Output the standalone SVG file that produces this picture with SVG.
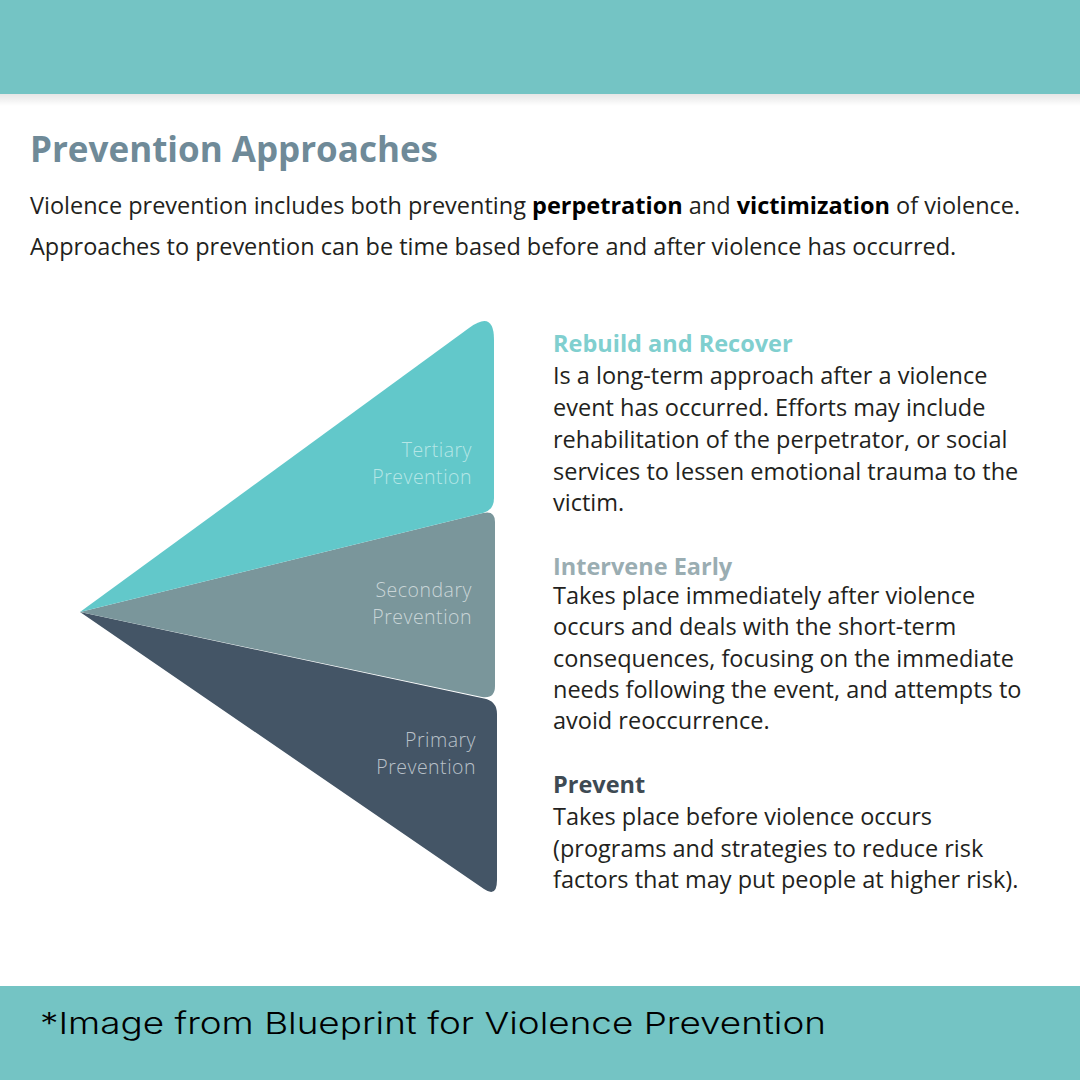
<svg xmlns="http://www.w3.org/2000/svg" width="1080" height="1080" viewBox="0 0 1080 1080">
<defs>
<linearGradient id="sh" x1="0" y1="0" x2="0" y2="1">
<stop offset="0" stop-color="#000" stop-opacity="0.10"/>
<stop offset="1" stop-color="#000" stop-opacity="0"/>
</linearGradient>
<style>
.body{font-family:"Open Sans","Liberation Sans",sans-serif;font-size:23.5px;fill:#231f20}
.head{font-family:"Open Sans","Liberation Sans",sans-serif;font-size:23.5px;font-weight:700}
.lbl{font-family:"Open Sans","Liberation Sans",sans-serif;font-size:19.5px;font-weight:300;letter-spacing:0.5px;text-anchor:end}
</style>
</defs>
<rect x="0" y="0" width="1080" height="1080" fill="#ffffff"/>
<rect x="0" y="94" width="1080" height="12" fill="url(#sh)"/>
<rect x="0" y="0" width="1080" height="94" fill="#74c4c4"/>
<rect x="0" y="986" width="1080" height="94" fill="#74c4c4"/>

<text x="30" y="162" font-family="'Open Sans','Liberation Sans',sans-serif" font-size="35" font-weight="700" fill="#6f8a98">Prevention Approaches</text>
<text class="body" x="30" y="214">Violence prevention includes both preventing <tspan font-weight="700" fill="#000">perpetration</tspan> and <tspan font-weight="700" fill="#000">victimization</tspan> of violence.</text>
<text class="body" x="30" y="255">Approaches to prevention can be time based before and after violence has occurred.</text>

<g id="primary">
<path d="M80,612 L484,698.5 Q497,701 497,714 L497,880 Q497,898 484,889 Z" fill="#445566"/>
<text class="lbl" fill="#b9c1c9"><tspan x="476" y="747">Primary</tspan><tspan x="476" y="774">Prevention</tspan></text>
</g>
<g id="secondary">
<path d="M80,612 L483,513 Q495,510 495,522 L495,686 Q495,699 482,697 Z" fill="#7a969b"/>
<text class="lbl" fill="#c9d5d7"><tspan x="472" y="597">Secondary</tspan><tspan x="472" y="624">Prevention</tspan></text>
</g>
<g id="tertiary">
<path d="M80,612 L469.7,327.6 Q494,310 494,340 L494,498 Q494,510 483,513 Z" fill="#62c8ca"/>
<text class="lbl" fill="#b5e6e6"><tspan x="472" y="457">Tertiary</tspan><tspan x="472" y="484">Prevention</tspan></text>
</g>

<g id="rebuild">
<text class="head" x="553" y="352" fill="#80cfcf">Rebuild and Recover</text>
<text class="body" x="553" y="384">Is a long-term approach after a violence</text>
<text class="body" x="553" y="416">event has occurred. Efforts may include</text>
<text class="body" x="553" y="448">rehabilitation of the perpetrator, or social</text>
<text class="body" x="553" y="480">services to lessen emotional trauma to the</text>
<text class="body" x="553" y="511">victim.</text>
</g>
<g id="intervene">
<text class="head" x="553" y="575" fill="#9aadb2">Intervene Early</text>
<text class="body" x="553" y="604">Takes place immediately after violence</text>
<text class="body" x="553" y="635">occurs and deals with the short-term</text>
<text class="body" x="553" y="667">consequences, focusing on the immediate</text>
<text class="body" x="553" y="698">needs following the event, and attempts to</text>
<text class="body" x="553" y="729">avoid reoccurrence.</text>
</g>
<g id="prevent">
<text class="head" x="553" y="793" fill="#3e4a53">Prevent</text>
<text class="body" x="553" y="825">Takes place before violence occurs</text>
<text class="body" x="553" y="857">(programs and strategies to reduce risk</text>
<text class="body" x="553" y="888">factors that may put people at higher risk).</text>
</g>
<g id="connectors"></g>

<text x="40" y="1034" font-family="Inter,'Liberation Sans',sans-serif" font-size="30" font-weight="300" fill="#000" textLength="786" lengthAdjust="spacingAndGlyphs">*Image from Blueprint for Violence Prevention</text>
</svg>
